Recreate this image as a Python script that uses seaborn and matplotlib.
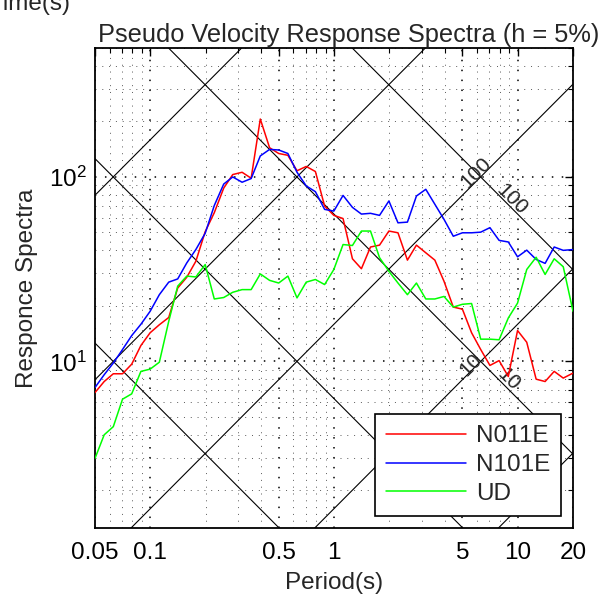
import numpy as np
import pandas as pd
import matplotlib
matplotlib.use("Agg")
import matplotlib.pyplot as plt
import seaborn as sns
from matplotlib.ticker import FixedLocator, FixedFormatter, LogLocator, NullFormatter

# ---------------- data ----------------
period = [0.05, 0.0561, 0.0629, 0.0706, 0.0792, 0.0889, 0.0998, 0.112, 0.126, 0.141,
          0.158, 0.177, 0.199, 0.223, 0.251, 0.281, 0.316, 0.354, 0.397, 0.446,
          0.5, 0.561, 0.629, 0.706, 0.792, 0.889, 0.998, 1.12, 1.26, 1.41,
          1.58, 1.77, 1.99, 2.23, 2.51, 2.81, 3.16, 3.54, 3.97, 4.46,
          5.0, 5.61, 6.29, 7.06, 7.92, 8.89, 9.98, 11.2, 12.6, 14.1,
          15.8, 17.7, 20.0]

n011e = [6.78, 7.78, 8.57, 8.57, 9.66, 12.2, 14.3, 15.8, 17.3, 25.0,
         28.6, 34.9, 50.5, 64.0, 87.0, 103, 106, 98.4, 206, 144,
         134, 131, 108, 114, 107, 69.5, 61.9, 59.5, 36.0, 31.8,
         41.7, 42.7, 50.9, 49.8, 35.4, 42.7, 38.8, 35.4, 27.2, 19.7,
         19.2, 14.3, 11.6, 9.51, 10.1, 8.28, 14.7, 12.7, 8.01, 7.78,
         8.83, 8.12, 8.64]

n101e = [7.22, 8.47, 9.8, 11.6, 13.8, 15.9, 18.7, 23.0, 26.9, 28.0,
         34.2, 40.4, 49.5, 70.0, 91.5, 100, 93.6, 98.0, 130, 141,
         140, 134, 106, 89.4, 83.2, 66.7, 65.3, 79.4, 68.4, 62.9,
         63.5, 61.9, 74.1, 56.4, 56.9, 78.8, 85.7, 71.1, 58.9, 47.7,
         49.8, 49.8, 50.2, 53.1, 45.3, 44.4, 36.9, 40.1, 35.7, 34.0,
         41.7, 40.0, 40.4]

ud = [2.98, 4.0, 4.43, 6.24, 6.67, 8.83, 9.08, 9.9, 16.5, 25.6,
      29.0, 28.7, 33.5, 21.8, 22.2, 23.7, 24.5, 24.5, 29.8, 27.5,
      26.6, 29.0, 22.1, 26.9, 27.8, 26.1, 31.5, 43.0, 42.5, 50.9,
      50.9, 36.5, 30.8, 26.6, 23.0, 26.6, 21.8, 21.8, 22.5, 19.7,
      20.4, 20.6, 13.2, 13.2, 13.1, 17.2, 20.7, 31.5, 36.7, 29.6,
      36.0, 32.6, 18.7]

components = ["N011E", "N101E", "UD"]
colors = ["#ff0000", "#0000ff", "#00ff00"]

sd_levels = [0.1, 1, 10, 100]            # constant displacement lines
psa_levels = [1, 10, 100, 1000, 10000]   # constant acceleration lines

xticks = [0.05, 0.1, 0.5, 1, 5, 10, 20]
xticklabels = ["0.05", "0.1", "0.5", "1", "5", "10", "20"]

# diagonal labels: (text, period, value, rotation)
diag_labels = [("100", 5.93, 105, 45), ("100", 9.31, 75.9, -45),
               ("10", 5.57, 9.63, 45), ("10", 8.86, 7.98, -45)]

# ---------------- plot ----------------
sns.set_style("white")
plt.rcParams["font.family"] = ["Liberation Sans", "DejaVu Sans"]
plt.rcParams["mathtext.fontset"] = "custom"
plt.rcParams["mathtext.rm"] = "Liberation Sans"
FS = 17.5

df = pd.DataFrame({
    "Period": period * 3,
    "PSV": n011e + n101e + ud,
    "Component": [c for c in components for _ in period],
})

fig = plt.figure(figsize=(6.01, 5.97), dpi=100)
ax = fig.add_axes([95 / 601, 1 - 528 / 597, 478 / 601, 480 / 597])
ax.set_xscale("log")
ax.set_yscale("log")

t_line = np.array([0.05, 20.0])
for sd in sd_levels:
    ax.plot(t_line, 2 * np.pi * sd / t_line, color="k", lw=0.8, zorder=1)
for psa in psa_levels:
    ax.plot(t_line, psa * t_line / (2 * np.pi), color="k", lw=0.8, zorder=1)

sns.lineplot(data=df, x="Period", y="PSV", hue="Component",
             palette=dict(zip(components, colors)), estimator=None, sort=False,
             lw=1.1, ax=ax, zorder=3)

ax.set_xlim(0.05, 20)
ax.set_ylim(1.25, 500)

for txt, t, v, rot in diag_labels:
    ax.text(t, v, txt, rotation=rot, ha="center", va="center",
            rotation_mode="anchor", fontsize=15, zorder=2)

ax.xaxis.set_major_locator(FixedLocator(xticks))
ax.xaxis.set_major_formatter(FixedFormatter(xticklabels))
ax.xaxis.set_minor_locator(LogLocator(base=10, subs=np.arange(2, 10)))
ax.xaxis.set_minor_formatter(NullFormatter())
ax.yaxis.set_minor_locator(LogLocator(base=10, subs=np.arange(2, 10)))
ax.yaxis.set_minor_formatter(NullFormatter())

ax.tick_params(which="both", direction="in", top=True, right=True, colors="k",
               labelsize=FS)
ax.tick_params(which="major", length=6, width=1)
ax.tick_params(which="minor", length=3.5, width=0.8)
ax.tick_params(axis="x", which="major", pad=10)
ax.tick_params(axis="y", which="major", pad=6)

ax.grid(True, which="major", ls=(0, (1, 5.5)), color="k", lw=1.1)
ax.grid(True, which="minor", ls=(0, (1, 6)), color="0.35", lw=0.7)
for s in ax.spines.values():
    s.set_color("k")
    s.set_linewidth(1.3)

ax.set_xlabel("Period(s)", fontsize=FS, labelpad=6)
ax.set_ylabel("Responce Spectra", fontsize=FS, labelpad=8)
ax.set_title("Pseudo Velocity Response Spectra (h = 5%)", fontsize=18.3, pad=4,
             x=0.531)

handles, labels = ax.get_legend_handles_labels()
pairs = [(h, l) for h, l in zip(handles, labels) if l in components]
leg = ax.legend([p[0] for p in pairs], [p[1] for p in pairs], loc="lower right",
                fontsize=FS, frameon=True, fancybox=False, edgecolor="k",
                framealpha=1, handlelength=3.3, handletextpad=0.4,
                labelspacing=0.28, borderpad=0.45, borderaxespad=0.5)
leg.get_frame().set_linewidth(1.2)

fig.text(-0.018, 0.983, "Time(s)", fontsize=FS, va="baseline", ha="left")

fig.savefig("out.png", dpi=100)
